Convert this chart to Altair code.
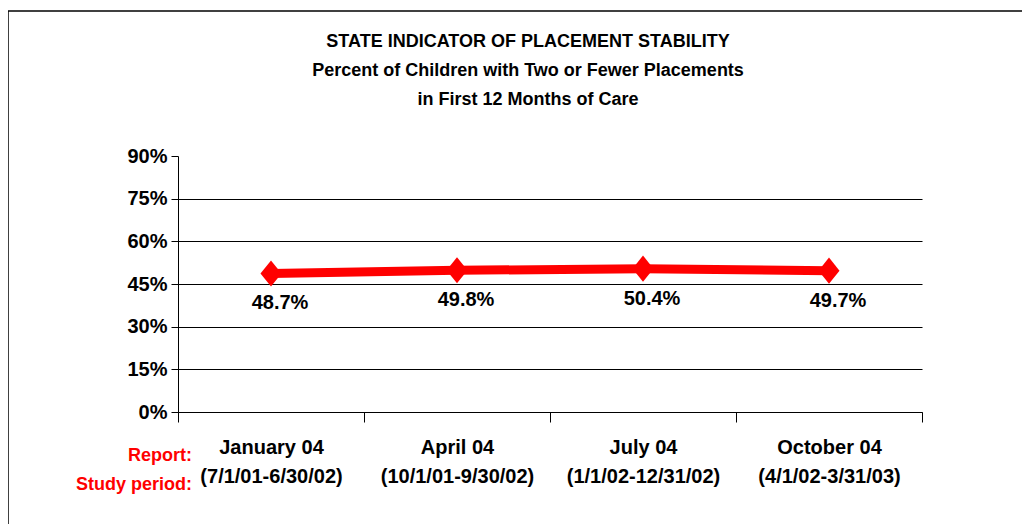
import altair as alt
import pandas as pd

title_lines = [
    "STATE INDICATOR OF PLACEMENT STABILITY",
    "Percent of Children with Two or Fewer Placements",
    "in First 12 Months of Care",
]
reports = ["January 04", "April 04", "July 04", "October 04"]
periods = ["(7/1/01-6/30/02)", "(10/1/01-9/30/02)", "(1/1/02-12/31/02)", "(4/1/02-3/31/03)"]
values = [48.7, 49.8, 50.4, 49.7]
y_ticks = [0, 15, 30, 45, 60, 75, 90]
row_labels = ["Report:", "Study period:"]

FONT = "Liberation Sans"
RED = "#FF0000"

df = pd.DataFrame({
    "cat": [f"{r}|{p}" for r, p in zip(reports, periods)],
    "value": [v / 100 for v in values],
    "label": [f"{v:.1f}%" for v in values],
})
order = list(df["cat"])

x_enc = alt.X(
    "cat:N",
    sort=order,
    bandPosition=0.5,
    scale=alt.Scale(type="band", paddingInner=0, paddingOuter=0),
    title=None,
    axis=alt.Axis(
        labelExpr="split(datum.label, '|')",
        labelAngle=0,
        tickBand="extent",
        tickSize=10,
        labelPadding=15,
        labelLineHeight=29,
        labelFontSize=20,
        labelFont=FONT,
        labelFontWeight="bold",
        labelColor="black",
        domainColor="black",
        tickColor="black",
        grid=False,
    ),
)
y_enc = alt.Y(
    "value:Q",
    scale=alt.Scale(domain=[0, 0.9], nice=False, zero=True),
    title=None,
    axis=alt.Axis(
        values=[t / 100 for t in y_ticks],
        format=".0%",
        tickSize=7,
        labelPadding=4,
        labelFontSize=20,
        labelFont=FONT,
        labelFontWeight="bold",
        labelColor="black",
        domainColor="black",
        tickColor="black",
        gridColor="black",
        gridWidth=1,
        gridOpacity={"condition": {"test": "datum.value >= 0.89", "value": 0}, "value": 1},
    ),
)

base = alt.Chart(df).encode(x=x_enc, y=y_enc)
line = base.mark_line(color=RED, strokeWidth=9)
pts = base.mark_point(
    shape="M0,-1.24L1,0L0,1.24L-1,0Z", size=441, filled=True, color=RED, opacity=1
)
labels = base.mark_text(
    dy=30, dx=9, fontSize=20, font=FONT, fontWeight="bold", color="black"
).encode(text="label:N")

one = pd.DataFrame({"a": [0]})


def text_layer(txt, xv, yv, align, color, size, baseline="alphabetic"):
    return alt.Chart(pd.DataFrame({"t": [txt]})).mark_text(
        align=align, baseline=baseline, fontSize=size, font=FONT, fontWeight="bold", color=color
    ).encode(text="t:N", x=alt.value(xv), y=alt.value(yv))


lab1 = text_layer(row_labels[0], 14, 305, "right", RED, 18)
lab2 = text_layer(row_labels[1], 14, 334, "right", RED, 18)

t1 = text_layer(title_lines[0], 350, -114, "center", "black", 18, "middle")
t2 = text_layer(title_lines[1], 350, -85, "center", "black", 18, "middle")
t3 = text_layer(title_lines[2], 350, -56, "center", "black", 18, "middle")

frame_top = alt.Chart(one).mark_rule(color="black", strokeWidth=1.5).encode(
    x=alt.value(-170), x2=alt.value(900), y=alt.value(-145), y2=alt.value(-145)
)
frame_left = alt.Chart(one).mark_rule(color="black", strokeWidth=1.5).encode(
    x=alt.value(-170), y=alt.value(-145), y2=alt.value(600)
)

chart = alt.layer(
    frame_top, frame_left, line, pts, labels, lab1, lab2, t1, t2, t3
).properties(
    width=744,
    height=256,
    autosize=alt.AutoSizeParams(type="none"),
    padding={"left": 170, "top": 148, "right": 100, "bottom": 112},
    background="white",
).configure_view(stroke=None)

chart.save("out.html", embed_options={"renderer": "svg", "actions": False})
